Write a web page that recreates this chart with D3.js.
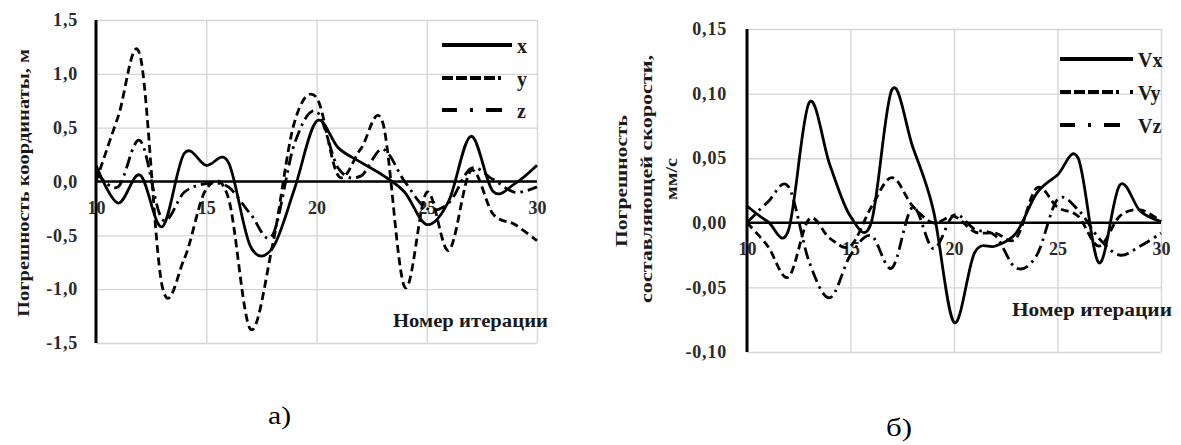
<!DOCTYPE html>
<html>
<head>
<meta charset="utf-8">
<script src="https://cdn.jsdelivr.net/npm/d3@7"></script>
<style>
  html, body { margin: 0; padding: 0; background: #fff; }
  svg { display: block; }
  text { font-family: "Liberation Serif", "Times New Roman", serif; }
</style>
</head>
<body>
<svg id="fig" width="1181" height="445"></svg>
<script>
// Iteration numbers along the horizontal axis
const iterations = [10, 11, 12, 13, 14, 15, 16, 17, 18, 19, 20, 21, 22, 23, 24, 25, 26, 27, 28, 29, 30];

// Panel а): coordinate errors, m
const errX = [0.15, -0.2, 0.06, -0.42, 0.26, 0.15, 0.18, -0.6, -0.62, -0.07, 0.56, 0.31, 0.18, 0.06, -0.1, -0.4, -0.18, 0.42, -0.09, -0.02, 0.15];
const errY = [0.0, 0.6, 1.17, -0.97, -0.72, -0.07, -0.15, -1.37, -0.6, 0.55, 0.78, 0.05, 0.3, 0.55, -0.98, -0.1, -0.64, 0.1, -0.3, -0.4, -0.55];
const errZ = [0.09, -0.05, 0.38, -0.35, -0.1, -0.02, -0.05, -0.3, -0.5, 0.35, 0.65, 0.12, 0.05, 0.3, 0.0, -0.25, -0.2, 0.12, 0.02, -0.1, -0.05];

// Panel б): velocity component errors, mm/s
const errVx = [0.013, 0.001, -0.006, 0.093, 0.045, 0.005, 0.0, 0.103, 0.059, 0.01, -0.077, -0.023, -0.018, -0.008, 0.023, 0.037, 0.05, -0.031, 0.029, 0.009, 0.001];
const errVy = [0.0, -0.018, -0.042, 0.003, -0.012, -0.018, 0.012, 0.035, 0.013, 0.0, 0.005, -0.007, -0.008, -0.012, 0.027, 0.012, 0.005, -0.018, 0.005, 0.01, 0.001];
const errVz = [0.0, 0.016, 0.028, -0.03, -0.058, -0.025, -0.01, -0.035, 0.012, -0.02, 0.006, -0.005, -0.01, -0.035, -0.025, 0.018, 0.01, -0.012, -0.025, -0.018, -0.008];

// Tick values and labels
const xTickValues = [10, 15, 20, 25, 30];
const xTickLabels = ["10", "15", "20", "25", "30"];
const yTickValuesA = [-1.5, -1.0, -0.5, 0.0, 0.5, 1.0, 1.5];
const yTickLabelsA = ["-1,5", "-1,0", "-0,5", "0,0", "0,5", "1,0", "1,5"];
const yTickValuesB = [-0.10, -0.05, 0.00, 0.05, 0.10, 0.15];
const yTickLabelsB = ["-0,10", "-0,05", "0,00", "0,05", "0,10", "0,15"];

// Series names and captions
const seriesNamesA = ["x", "y", "z"];
const seriesNamesB = ["Vx", "Vy", "Vz"];
const yTitleA = ["Погрешность координаты, м"];
const yTitleB = ["Погрешность", "составляющей скорости,", "мм/с"];
const xTitle = "Номер итерации";
const captions = ["а)", "б)"];

const svg = d3.select("#fig");
const lineStyles = [
  { dash: null, legendDash: null },
  { dash: "8,4.5", legendDash: "11,3,11,3,11,3,11,3,3" },
  { dash: "12,5,2.5,5", legendDash: "15,13,3,13,16" }
];

function drawPanel(cfg) {
  const g = svg.append("g");
  const x = d3.scaleLinear().domain([10, 30]).range([cfg.left, cfg.right]);
  const y = d3.scaleLinear().domain(cfg.yDomain).range([cfg.bottom, cfg.top]);
  const w = cfg.right - cfg.left, h = cfg.bottom - cfg.top;

  // horizontal grid
  g.append("g")
    .attr("transform", `translate(${cfg.left},0)`)
    .call(d3.axisLeft(y).tickValues(cfg.yTicks).tickSize(-w).tickFormat(""))
    .call(s => s.select(".domain").remove())
    .selectAll("line").attr("stroke", "#d6d6d6").attr("stroke-width", 1.4);

  // vertical grid
  g.append("g")
    .attr("transform", `translate(0,${cfg.bottom})`)
    .call(d3.axisBottom(x).tickValues(xTickValues.slice(1)).tickSize(-h).tickFormat(""))
    .call(s => s.select(".domain").remove())
    .selectAll("line").attr("stroke", "#d6d6d6").attr("stroke-width", 1.4);

  // y tick labels
  g.append("g")
    .attr("transform", `translate(${cfg.left},0)`)
    .call(d3.axisLeft(y).tickValues(cfg.yTicks).tickSize(0).tickPadding(cfg.yPad)
      .tickFormat((d, i) => cfg.yLabels[i]))
    .call(s => s.select(".domain").remove())
    .selectAll("text")
    .attr("font-family", "Liberation Serif, serif")
    .attr("font-size", 18).attr("font-weight", "bold")
    .attr("letter-spacing", 0.8)
    .attr("fill", "#2a2a2a");

  // x tick labels, sitting under the zero line
  g.append("g")
    .attr("transform", `translate(0,${y(0)})`)
    .call(d3.axisBottom(x).tickValues(xTickValues).tickSize(0).tickPadding(cfg.xPad)
      .tickFormat((d, i) => xTickLabels[i]))
    .call(s => s.select(".domain").remove())
    .selectAll("text")
    .attr("font-family", "Liberation Serif, serif")
    .attr("font-size", 18).attr("font-weight", "bold")
    .attr("fill", "#2a2a2a");

  // data curves
  const line = d3.line()
    .x((d, i) => x(iterations[i]))
    .y(d => y(d))
    .curve(d3.curveCardinal.tension(0));
  cfg.series.forEach((vals, k) => {
    g.append("path")
      .datum(vals)
      .attr("d", line)
      .attr("fill", "none")
      .attr("stroke", "#000")
      .attr("stroke-width", 2.8)
      .attr("stroke-dasharray", lineStyles[k].dash);
  });

  // zero line and vertical axis
  g.append("line")
    .attr("x1", x(10)).attr("x2", x(30))
    .attr("y1", y(0)).attr("y2", y(0))
    .attr("stroke", "#000").attr("stroke-width", 2.6);
  g.append("line")
    .attr("x1", x(10)).attr("x2", x(10))
    .attr("y1", y(cfg.yDomain[0])).attr("y2", y(cfg.yDomain[1]))
    .attr("stroke", "#000").attr("stroke-width", 3);

  // legend
  cfg.names.forEach((name, k) => {
    const ly = cfg.legendY[k];
    g.append("line")
      .attr("x1", cfg.legendX).attr("x2", cfg.legendX + cfg.legendLen)
      .attr("y1", ly).attr("y2", ly)
      .attr("stroke", "#000").attr("stroke-width", 4)
      .attr("stroke-dasharray", lineStyles[k].legendDash);
    g.append("text")
      .attr("x", cfg.legendX + cfg.legendLen + 5)
      .attr("y", ly + 8)
      .attr("font-size", cfg.legendFont).attr("font-weight", "bold")
      .attr("fill", "#1a1a1a")
      .text(name);
  });

  // axis titles
  cfg.yTitle.forEach((t, i) => {
    const tl = cfg.yTitlePos[i];
    g.append("text")
      .attr("transform", `translate(${tl.x},${tl.y}) rotate(-90)`)
      .attr("text-anchor", "middle")
      .attr("font-size", 17).attr("font-weight", "bold")
      .attr("fill", "#1a1a1a")
      .attr("textLength", tl.len).attr("lengthAdjust", "spacingAndGlyphs")
      .text(t);
  });
  g.append("text")
    .attr("x", cfg.xTitlePos.x).attr("y", cfg.xTitlePos.y)
    .attr("font-size", 18).attr("font-weight", "bold")
    .attr("fill", "#1a1a1a")
    .attr("textLength", cfg.xTitlePos.len).attr("lengthAdjust", "spacingAndGlyphs")
    .text(xTitle);

  // caption
  g.append("text")
    .attr("x", cfg.caption.x).attr("y", cfg.caption.y)
    .attr("font-family", "Liberation Sans Narrow, Liberation Sans, Arial, sans-serif")
    .attr("font-size", 25)
    .attr("fill", "#000")
    .attr("textLength", cfg.caption.len).attr("lengthAdjust", "spacingAndGlyphs")
    .text(cfg.caption.text);
}

drawPanel({
  left: 96, right: 537, top: 20, bottom: 343,
  yDomain: [-1.5, 1.5], yTicks: yTickValuesA, yLabels: yTickLabelsA,
  yPad: 18, xPad: 20,
  series: [errX, errY, errZ], names: seriesNamesA,
  legendX: 442, legendLen: 70, legendY: [45, 78, 110], legendFont: 20,
  yTitle: yTitleA, yTitlePos: [{ x: 29, y: 183, len: 268 }],
  xTitlePos: { x: 393, y: 327, len: 155 },
  caption: { x: 268, y: 424, len: 23, text: captions[0] }
});

drawPanel({
  left: 747, right: 1161, top: 29, bottom: 352,
  yDomain: [-0.10, 0.15], yTicks: yTickValuesB, yLabels: yTickLabelsB,
  yPad: 20, xPad: 19,
  series: [errVx, errVy, errVz], names: seriesNamesB,
  legendX: 1060, legendLen: 73, legendY: [59, 92, 125], legendFont: 20,
  yTitle: yTitleB,
  yTitlePos: [{ x: 627, y: 181, len: 132 }, { x: 652, y: 179, len: 248 }, { x: 677, y: 179, len: 42 }],
  xTitlePos: { x: 1012, y: 316, len: 160 },
  caption: { x: 886, y: 436, len: 26, text: captions[1] }
});
</script>
</body>
</html>
